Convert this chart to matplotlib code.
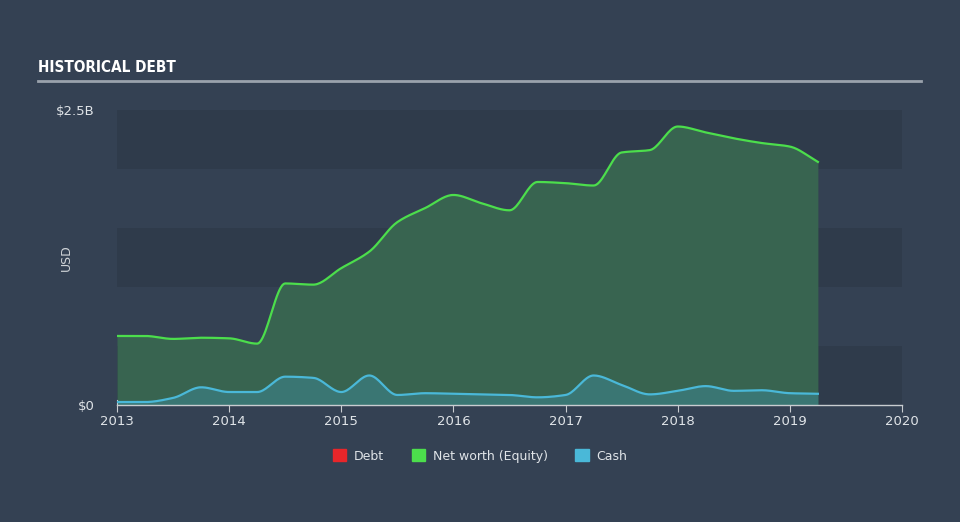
import matplotlib
matplotlib.use('Agg')
import matplotlib.pyplot as plt
from matplotlib.patches import Patch
import numpy as np

# quarterly readings, USD billions
years = [2013.0, 2013.25, 2013.5, 2013.75, 2014.0, 2014.25, 2014.5, 2014.75,
         2015.0, 2015.25, 2015.5, 2015.75, 2016.0, 2016.25, 2016.5, 2016.75,
         2017.0, 2017.25, 2017.5, 2017.75, 2018.0, 2018.25, 2018.5, 2018.75,
         2019.0, 2019.25]
equity = [0.585, 0.585, 0.56, 0.57, 0.565, 0.52, 1.03, 1.02,
          1.16, 1.30, 1.55, 1.67, 1.78, 1.71, 1.65, 1.89,
          1.88, 1.86, 2.14, 2.16, 2.36, 2.31, 2.26, 2.22,
          2.19, 2.06]
cash = [0.025, 0.025, 0.06, 0.15, 0.11, 0.11, 0.24, 0.23,
        0.11, 0.25, 0.085, 0.10, 0.095, 0.09, 0.085, 0.065,
        0.085, 0.25, 0.17, 0.09, 0.12, 0.16, 0.12, 0.125,
        0.10, 0.095]
debt = [0.0] * len(years)
x_ticks = [2013, 2014, 2015, 2016, 2017, 2018, 2019, 2020]

bg = '#344153'
band = '#2f3b4b'
green = '#4cde4c'
blue = '#4ab8d8'
red = '#e8262a'


def smooth(xs, ys, n=20):
    # monotone cubic (pchip style) just for drawing the curve
    xs = np.asarray(xs, float)
    ys = np.asarray(ys, float)
    h = np.diff(xs)
    d = np.diff(ys) / h
    m = np.zeros_like(ys)
    for i in range(1, len(ys) - 1):
        if d[i - 1] * d[i] > 0:
            m[i] = 2 * d[i - 1] * d[i] / (d[i - 1] + d[i])
    m[0] = d[0]
    m[-1] = d[-1]
    out_x, out_y = [], []
    for i in range(len(h)):
        t = np.linspace(0, 1, n, endpoint=False)
        h00 = 2 * t**3 - 3 * t**2 + 1
        h10 = t**3 - 2 * t**2 + t
        h01 = -2 * t**3 + 3 * t**2
        h11 = t**3 - t**2
        out_x.append(xs[i] + t * h[i])
        out_y.append(h00 * ys[i] + h10 * h[i] * m[i] + h01 * ys[i + 1] + h11 * h[i] * m[i + 1])
    out_x.append([xs[-1]])
    out_y.append([ys[-1]])
    return np.concatenate(out_x), np.concatenate(out_y)


fig = plt.figure(figsize=(9.6, 5.22), dpi=100)
fig.patch.set_facecolor(bg)
ax = fig.add_axes([117 / 960, 117 / 522, 785 / 960, 295 / 522])
ax.set_facecolor(bg)

# alternating background stripes
for lo in [0.0, 1.0, 2.0]:
    ax.axhspan(lo, lo + 0.5, color=band, zorder=0, lw=0)

ex, ey = smooth(years, equity)
cx, cy = smooth(years, cash)
ax.fill_between(ex, 0, ey, color='#386450', lw=0, zorder=1)
ax.plot(ex, ey, color=green, lw=1.6, zorder=3)
ax.fill_between(cx, 0, cy, color='#3c7e82', alpha=0.7, lw=0, zorder=2)
ax.plot(cx, cy, color=blue, lw=1.6, zorder=4)

ax.set_xlim(2013, 2020)
ax.set_ylim(0, 2.5)
ax.set_xticks(x_ticks)
ax.set_xticklabels([str(t) for t in x_ticks], color='#e0e4e8', fontsize=9.5)
ax.set_yticks([0, 2.5])
ax.set_yticklabels(['$0', '$2.5B'], color='#e0e4e8', fontsize=9.5)
ax.tick_params(axis='x', length=5, color='#c8ccd0', pad=2)
ax.tick_params(axis='y', length=0, pad=16)
for s in ['top', 'right']:
    ax.spines[s].set_visible(False)
ax.spines['bottom'].set_color('#c8ccd0')
ax.spines['bottom'].set_linewidth(1)
ax.spines['left'].set_color('#c8ccd0')
ax.spines['left'].set_bounds(0, 0.04)
ax.set_ylabel('USD', color='#d0d4d8', fontsize=9)
ax.yaxis.set_label_coords(-0.056, 0.5)

fig.text(38 / 960, 1 - 68 / 522, 'HISTORICAL DEBT', color='white', fontsize=11,
         fontweight='bold', fontstretch='condensed', va='center', ha='left')
fig.add_artist(plt.Line2D([38 / 960, 921 / 960], [1 - 81 / 522, 1 - 81 / 522],
                          color='#9aa2ac', lw=2))

handles = [Patch(color=red, label='Debt'),
           Patch(color=green, label='Net worth (Equity)'),
           Patch(color=blue, label='Cash')]
leg = fig.legend(handles=handles, loc='center', bbox_to_anchor=(0.5, 1 - 456 / 522),
                 ncol=3, frameon=False, fontsize=9, handlelength=1.1,
                 handleheight=1.1, columnspacing=2.2, handletextpad=0.6)
for t in leg.get_texts():
    t.set_color('#e0e4e8')

fig.savefig('out.png', dpi=100, facecolor=bg)
